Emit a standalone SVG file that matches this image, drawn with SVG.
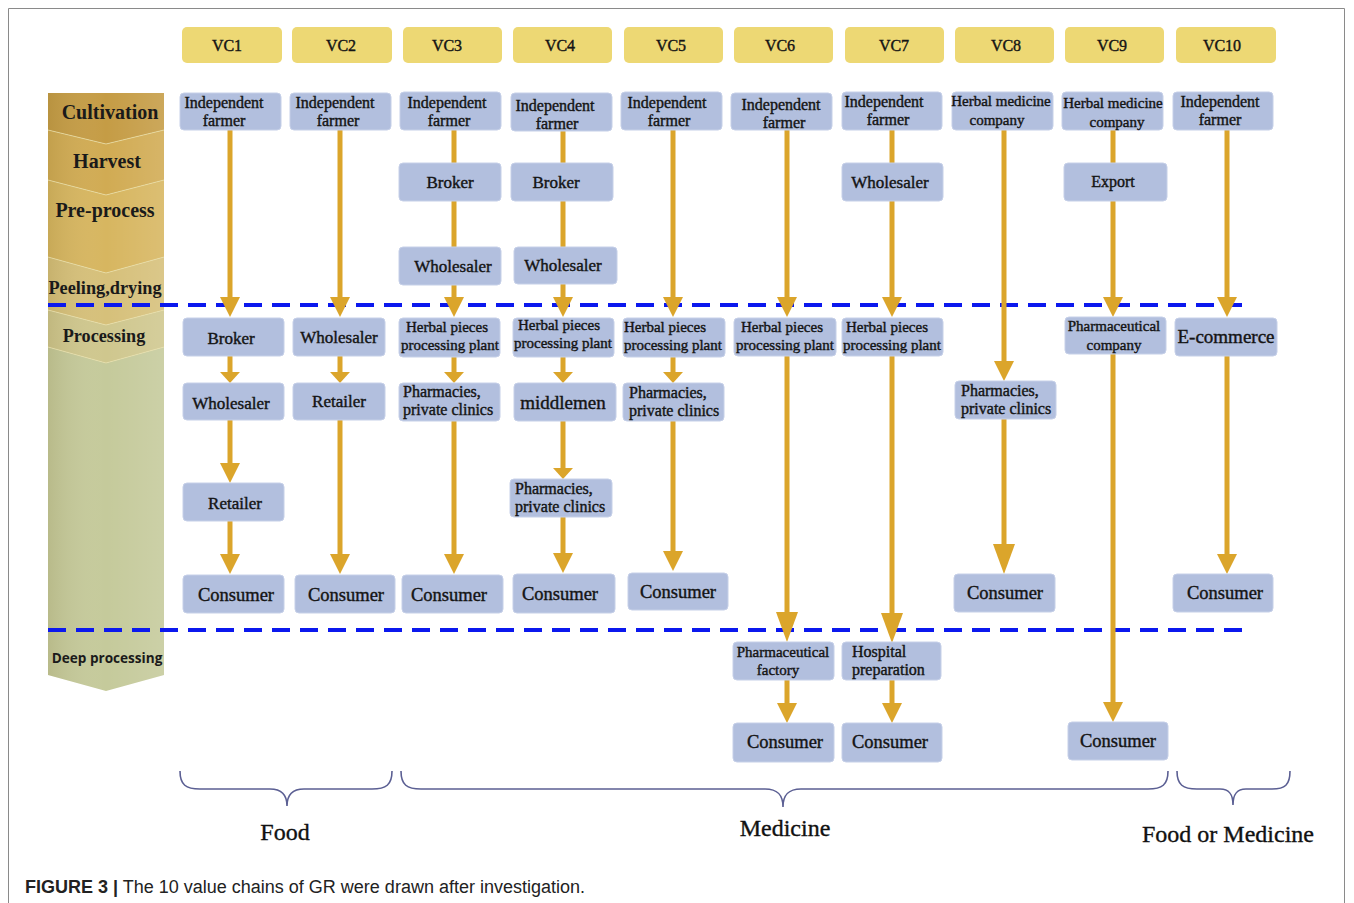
<svg xmlns="http://www.w3.org/2000/svg" width="1354" height="903" viewBox="0 0 1354 903">
<defs>
<style>
.vc{fill:#EDD874}
.nd{fill:#B2BFDE;stroke:#C6D0E8;stroke-width:1}
.t{font-family:"Liberation Serif","Times New Roman",serif;fill:#141414;stroke:#141414;stroke-width:0.4}
.c{text-anchor:middle}
.f15{font-size:15px}
.f16{font-size:16px}
.f17{font-size:17px}
.f18{font-size:18.5px}
.f19{font-size:19px}
.st{font-family:"Liberation Serif","Times New Roman",serif;font-weight:bold;fill:#1a1a1a;text-anchor:middle}
.ln{stroke:#DBA52B;stroke-width:5;fill:none}
.dash{stroke:#0B18EE;stroke-width:4;stroke-dasharray:18 10;fill:none}
.brace{stroke:#5B5F93;stroke-width:1.6;fill:none}
.cat{font-family:"Liberation Serif","Times New Roman",serif;font-size:24px;fill:#111;stroke:#111;stroke-width:0.35;text-anchor:middle}
.chev{fill:none;stroke:#EADFA8;stroke-width:1;opacity:0.7}
</style>
<marker id="big" markerUnits="userSpaceOnUse" viewBox="0 -10 20 20" markerWidth="20" markerHeight="20" refX="0" refY="0" orient="auto"><path d="M0,-10 L20,0 L0,10 z" fill="#DBA52B"/></marker>
<marker id="small" markerUnits="userSpaceOnUse" viewBox="0 -10 11 20" markerWidth="11" markerHeight="20" refX="0" refY="0" orient="auto"><path d="M0,-10 L11,0 L0,10 z" fill="#DBA52B"/></marker>
<marker id="tall" markerUnits="userSpaceOnUse" viewBox="0 -11 30 22" markerWidth="30" markerHeight="22" refX="0" refY="0" orient="auto"><path d="M0,-11 L30,0 L0,11 z" fill="#DBA52B"/></marker>
<linearGradient id="shade" x1="0" y1="0" x2="1" y2="0">
<stop offset="0" stop-color="#6a5a20" stop-opacity="0.14"/>
<stop offset="0.5" stop-color="#ffffff" stop-opacity="0"/>
<stop offset="1" stop-color="#ffffff" stop-opacity="0.12"/>
</linearGradient>
</defs>
<rect x="0" y="0" width="1354" height="903" fill="#ffffff"/>
<path d="M8.5,903 V8.5 H1344.5 V903" fill="none" stroke="#8a8a8a" stroke-width="1"/>

<g id="stages">
<polygon points="48,93 164,93 164,130 106,144 48,130" fill="#C59C45"/>
<polygon points="48,130 106,144 164,130 164,180 106,195 48,180" fill="#D1AB53"/>
<polygon points="48,180 106,195 164,180 164,257 106,273 48,257" fill="#D7B660"/>
<polygon points="48,257 106,273 164,257 164,310 106,325 48,310" fill="#D6C07A"/>
<polygon points="48,310 106,325 164,310 164,347 106,363 48,347" fill="#CFC78E"/>
<polygon points="48,347 106,363 164,347 164,675 106,691 48,675" fill="#C5CA9B"/>
<polygon points="48,93 164,93 164,675 106,691 48,675" fill="url(#shade)"/>
<polyline class="chev" points="48,130 106,144 164,130"/>
<polyline class="chev" points="48,180 106,195 164,180"/>
<polyline class="chev" points="48,257 106,273 164,257"/>
<polyline class="chev" points="48,310 106,325 164,310"/>
<polyline class="chev" points="48,347 106,363 164,347"/>
<text class="st" x="110" y="119" font-size="20">Cultivation</text>
<text class="st" x="107" y="168" font-size="20">Harvest</text>
<text class="st" x="105" y="217" font-size="20">Pre-process</text>
<text class="st" x="105" y="294" font-size="18.3">Peeling,drying</text>
<text class="st" x="104" y="342" font-size="18.2">Processing</text>
<text x="107" y="663" font-family="'Open Sans','Liberation Sans',sans-serif" font-weight="bold" font-size="13.6" fill="#1a1a1a" text-anchor="middle">Deep processing</text>
</g>

<g id="headers">
<g id="h-vc1"><rect class="vc" x="182" y="27" width="100" height="36" rx="5"/><text class="t c f16" x="227" y="51">VC1</text></g>
<g id="h-vc2"><rect class="vc" x="292" y="27" width="100" height="36" rx="5"/><text class="t c f16" x="341" y="51">VC2</text></g>
<g id="h-vc3"><rect class="vc" x="403" y="27" width="99" height="36" rx="5"/><text class="t c f16" x="447" y="51">VC3</text></g>
<g id="h-vc4"><rect class="vc" x="513" y="27" width="99" height="36" rx="5"/><text class="t c f16" x="560" y="51">VC4</text></g>
<g id="h-vc5"><rect class="vc" x="624" y="27" width="99" height="36" rx="5"/><text class="t c f16" x="671" y="51">VC5</text></g>
<g id="h-vc6"><rect class="vc" x="734" y="27" width="99" height="36" rx="5"/><text class="t c f16" x="780" y="51">VC6</text></g>
<g id="h-vc7"><rect class="vc" x="845" y="27" width="99" height="36" rx="5"/><text class="t c f16" x="894" y="51">VC7</text></g>
<g id="h-vc8"><rect class="vc" x="955" y="27" width="99" height="36" rx="5"/><text class="t c f16" x="1006" y="51">VC8</text></g>
<g id="h-vc9"><rect class="vc" x="1065" y="27" width="99" height="36" rx="5"/><text class="t c f16" x="1112" y="51">VC9</text></g>
<g id="h-vc10"><rect class="vc" x="1176" y="27" width="100" height="36" rx="5"/><text class="t c f16" x="1222" y="51">VC10</text></g>
</g>

<g id="dividers">
<line class="dash" x1="48" y1="305" x2="1250" y2="305" stroke-dasharray="18 9.6"/>
<line class="dash" x1="48" y1="630" x2="1250" y2="630" stroke-dasharray="18 9.6"/>
</g>

<g id="connectors">
<path class="ln" d="M230,128 V297" marker-end="url(#big)"/>
<path class="ln" d="M230,354 V372" marker-end="url(#small)"/>
<path class="ln" d="M230,418 V463" marker-end="url(#big)"/>
<path class="ln" d="M230,519 V554" marker-end="url(#big)"/>
<path class="ln" d="M340,128 V297" marker-end="url(#big)"/>
<path class="ln" d="M340,354 V372" marker-end="url(#small)"/>
<path class="ln" d="M340,418 V554" marker-end="url(#big)"/>
<path class="ln" d="M454,128 V297" marker-end="url(#big)"/>
<path class="ln" d="M454,355 V372" marker-end="url(#small)"/>
<path class="ln" d="M454,419 V554" marker-end="url(#big)"/>
<path class="ln" d="M563,129 V297" marker-end="url(#big)"/>
<path class="ln" d="M563,355 V372" marker-end="url(#small)"/>
<path class="ln" d="M563,419 V468" marker-end="url(#small)"/>
<path class="ln" d="M563,515 V553" marker-end="url(#big)"/>
<path class="ln" d="M673,128 V297" marker-end="url(#big)"/>
<path class="ln" d="M673,355 V372" marker-end="url(#small)"/>
<path class="ln" d="M673,419 V551" marker-end="url(#big)"/>
<path class="ln" d="M787,128 V297" marker-end="url(#big)"/>
<path class="ln" d="M787,354 V612" marker-end="url(#tall)"/>
<path class="ln" d="M787,678 V703" marker-end="url(#big)"/>
<path class="ln" d="M892,128 V297" marker-end="url(#big)"/>
<path class="ln" d="M892,354 V613" marker-end="url(#tall)"/>
<path class="ln" d="M892,678 V703" marker-end="url(#big)"/>
<path class="ln" d="M1004,128 V361" marker-end="url(#big)"/>
<path class="ln" d="M1004,416 V544" marker-end="url(#tall)"/>
<path class="ln" d="M1113,128 V297" marker-end="url(#big)"/>
<path class="ln" d="M1113,352 V702" marker-end="url(#big)"/>
<path class="ln" d="M1227,128 V297" marker-end="url(#big)"/>
<path class="ln" d="M1227,354 V554" marker-end="url(#big)"/>
</g>

<!-- VC1 -->
<g id="vc1-farmer"><rect class="nd" x="180" y="93" width="101" height="37" rx="4"/><text class="t c f16" x="224" y="108">Independent</text><text class="t c f16" x="224" y="126">farmer</text></g>
<g id="vc1-broker"><rect class="nd" x="183" y="318" width="101" height="38" rx="4"/><text class="t c f17" x="231" y="344">Broker</text></g>
<g id="vc1-wholesaler"><rect class="nd" x="183" y="383" width="101" height="37" rx="4"/><text class="t c f17" x="231" y="409">Wholesaler</text></g>
<g id="vc1-retailer"><rect class="nd" x="183" y="483" width="101" height="38" rx="4"/><text class="t c f17" x="235" y="509">Retailer</text></g>
<g id="vc1-consumer"><rect class="nd" x="183" y="575" width="101" height="38" rx="4"/><text class="t c f18" x="236" y="601">Consumer</text></g>
<!-- VC2 -->
<g id="vc2-farmer"><rect class="nd" x="290" y="93" width="101" height="37" rx="4"/><text class="t c f16" x="335" y="108">Independent</text><text class="t c f16" x="338" y="126">farmer</text></g>
<g id="vc2-wholesaler"><rect class="nd" x="293" y="318" width="92" height="38" rx="4"/><text class="t c f17" x="339" y="343">Wholesaler</text></g>
<g id="vc2-retailer"><rect class="nd" x="293" y="383" width="92" height="37" rx="4"/><text class="t c f17" x="339" y="407">Retailer</text></g>
<g id="vc2-consumer"><rect class="nd" x="295" y="575" width="100" height="38" rx="4"/><text class="t c f18" x="346" y="601">Consumer</text></g>
<!-- VC3 -->
<g id="vc3-farmer"><rect class="nd" x="400" y="92" width="101" height="38" rx="4"/><text class="t c f16" x="447" y="108">Independent</text><text class="t c f16" x="449" y="126">farmer</text></g>
<g id="vc3-broker"><rect class="nd" x="399" y="163" width="102" height="38" rx="4"/><text class="t c f17" x="450" y="188">Broker</text></g>
<g id="vc3-wholesaler"><rect class="nd" x="399" y="247" width="102" height="38" rx="4"/><text class="t c f17" x="453" y="272">Wholesaler</text></g>
<g id="vc3-plant"><rect class="nd" x="399" y="318" width="101" height="39" rx="4"/><text class="t c f15" x="447" y="332">Herbal pieces</text><text class="t c f15" x="450" y="350">processing plant</text></g>
<g id="vc3-pharmacies"><rect class="nd" x="399" y="383" width="101" height="38" rx="4"/><text class="t f16" x="403" y="397">Pharmacies,</text><text class="t f16" x="403" y="415">private clinics</text></g>
<g id="vc3-consumer"><rect class="nd" x="402" y="575" width="101" height="38" rx="4"/><text class="t c f18" x="449" y="601">Consumer</text></g>
<!-- VC4 -->
<g id="vc4-farmer"><rect class="nd" x="511" y="93" width="101" height="38" rx="4"/><text class="t c f16" x="555" y="111">Independent</text><text class="t c f16" x="557" y="129">farmer</text></g>
<g id="vc4-broker"><rect class="nd" x="511" y="163" width="102" height="38" rx="4"/><text class="t c f17" x="556" y="188">Broker</text></g>
<g id="vc4-wholesaler"><rect class="nd" x="514" y="247" width="103" height="37" rx="4"/><text class="t c f17" x="563" y="271">Wholesaler</text></g>
<g id="vc4-plant"><rect class="nd" x="513" y="318" width="101" height="39" rx="4"/><text class="t c f15" x="559" y="330">Herbal pieces</text><text class="t c f15" x="563" y="348">processing plant</text></g>
<g id="vc4-middlemen"><rect class="nd" x="514" y="383" width="102" height="38" rx="4"/><text class="t c f19" x="563" y="409">middlemen</text></g>
<g id="vc4-pharmacies"><rect class="nd" x="510" y="479" width="102" height="38" rx="4"/><text class="t f16" x="515" y="494">Pharmacies,</text><text class="t f16" x="515" y="512">private clinics</text></g>
<g id="vc4-consumer"><rect class="nd" x="513" y="574" width="102" height="39" rx="4"/><text class="t c f18" x="560" y="600">Consumer</text></g>
<!-- VC5 -->
<g id="vc5-farmer"><rect class="nd" x="621" y="92" width="101" height="38" rx="4"/><text class="t c f16" x="667" y="108">Independent</text><text class="t c f16" x="669" y="126">farmer</text></g>
<g id="vc5-plant"><rect class="nd" x="623" y="318" width="102" height="39" rx="4"/><text class="t c f15" x="665" y="332">Herbal pieces</text><text class="t c f15" x="673" y="350">processing plant</text></g>
<g id="vc5-pharmacies"><rect class="nd" x="623" y="383" width="101" height="38" rx="4"/><text class="t f16" x="629" y="398">Pharmacies,</text><text class="t f16" x="629" y="416">private clinics</text></g>
<g id="vc5-consumer"><rect class="nd" x="628" y="573" width="100" height="37" rx="4"/><text class="t c f18" x="678" y="598">Consumer</text></g>
<!-- VC6 -->
<g id="vc6-farmer"><rect class="nd" x="731" y="93" width="101" height="37" rx="4"/><text class="t c f16" x="781" y="110">Independent</text><text class="t c f16" x="784" y="128">farmer</text></g>
<g id="vc6-plant"><rect class="nd" x="734" y="318" width="102" height="38" rx="4"/><text class="t c f15" x="782" y="332">Herbal pieces</text><text class="t c f15" x="785" y="350">processing plant</text></g>
<g id="vc6-factory"><rect class="nd" x="733" y="642" width="101" height="38" rx="4"/><text class="t c f15" x="783" y="657">Pharmaceutical</text><text class="t c f15" x="778" y="675">factory</text></g>
<g id="vc6-consumer"><rect class="nd" x="733" y="723" width="101" height="39" rx="4"/><text class="t c f18" x="785" y="748">Consumer</text></g>
<!-- VC7 -->
<g id="vc7-farmer"><rect class="nd" x="842" y="92" width="100" height="38" rx="4"/><text class="t c f16" x="884" y="107">Independent</text><text class="t c f16" x="888" y="125">farmer</text></g>
<g id="vc7-wholesaler"><rect class="nd" x="842" y="163" width="101" height="38" rx="4"/><text class="t c f17" x="890" y="188">Wholesaler</text></g>
<g id="vc7-plant"><rect class="nd" x="842" y="318" width="101" height="38" rx="4"/><text class="t c f15" x="887" y="332">Herbal pieces</text><text class="t c f15" x="892" y="350">processing plant</text></g>
<g id="vc7-hospital"><rect class="nd" x="842" y="642" width="99" height="38" rx="4"/><text class="t f16" x="852" y="657">Hospital</text><text class="t f16" x="852" y="675">preparation</text></g>
<g id="vc7-consumer"><rect class="nd" x="842" y="723" width="100" height="39" rx="4"/><text class="t c f18" x="890" y="748">Consumer</text></g>
<!-- VC8 -->
<g id="vc8-company"><rect class="nd" x="952" y="92" width="101" height="38" rx="4"/><text class="t c f15" x="1001" y="106">Herbal medicine</text><text class="t c f15" x="997" y="125">company</text></g>
<g id="vc8-pharmacies"><rect class="nd" x="955" y="381" width="101" height="38" rx="4"/><text class="t f16" x="961" y="396">Pharmacies,</text><text class="t f16" x="961" y="414">private clinics</text></g>
<g id="vc8-consumer"><rect class="nd" x="954" y="574" width="101" height="38" rx="4"/><text class="t c f18" x="1005" y="599">Consumer</text></g>
<!-- VC9 -->
<g id="vc9-company"><rect class="nd" x="1062" y="92" width="101" height="38" rx="4"/><text class="t c f15" x="1113" y="108">Herbal medicine</text><text class="t c f15" x="1117" y="127">company</text></g>
<g id="vc9-export"><rect class="nd" x="1064" y="163" width="103" height="38" rx="4"/><text class="t c f16" x="1113" y="187">Export</text></g>
<g id="vc9-pharma"><rect class="nd" x="1065" y="317" width="101" height="37" rx="4"/><text class="t c f15" x="1114" y="331">Pharmaceutical</text><text class="t c f15" x="1114" y="350">company</text></g>
<g id="vc9-consumer"><rect class="nd" x="1068" y="722" width="100" height="38" rx="4"/><text class="t c f18" x="1118" y="747">Consumer</text></g>
<!-- VC10 -->
<g id="vc10-farmer"><rect class="nd" x="1173" y="92" width="100" height="38" rx="4"/><text class="t c f16" x="1220" y="107">Independent</text><text class="t c f16" x="1220" y="125">farmer</text></g>
<g id="vc10-ecommerce"><rect class="nd" x="1175" y="318" width="102" height="38" rx="4"/><text class="t c f19" x="1226" y="343">E-commerce</text></g>
<g id="vc10-consumer"><rect class="nd" x="1173" y="574" width="100" height="38" rx="4"/><text class="t c f18" x="1225" y="599">Consumer</text></g>

<g id="categories">
<path class="brace" d="M180,771 C180,785 186,789 200,789 L270,789 C282,789 287,795 287,806 C287,795 292,789 304,789 L372,789 C386,789 392,785 392,771"/>
<path class="brace" d="M401,771 C401,785 407,789 421,789 L765,789 C778,789 783,795 783,807 C783,795 788,789 801,789 L1148,789 C1162,789 1168,785 1168,771"/>
<path class="brace" d="M1177,771 C1177,785 1183,789 1197,789 L1220,789 C1230,789 1233,795 1233,805 C1233,795 1236,789 1246,789 L1272,789 C1285,789 1290,785 1290,771"/>
<text class="cat" x="285" y="840">Food</text>
<text class="cat" x="785" y="836">Medicine</text>
<text class="cat" x="1228" y="842">Food or Medicine</text>
</g>

<text x="25" y="893" font-family="'Liberation Sans',Arial,sans-serif" font-size="18" fill="#222"><tspan font-weight="bold">FIGURE 3 |</tspan> The 10 value chains of GR were drawn after investigation.</text>
</svg>
